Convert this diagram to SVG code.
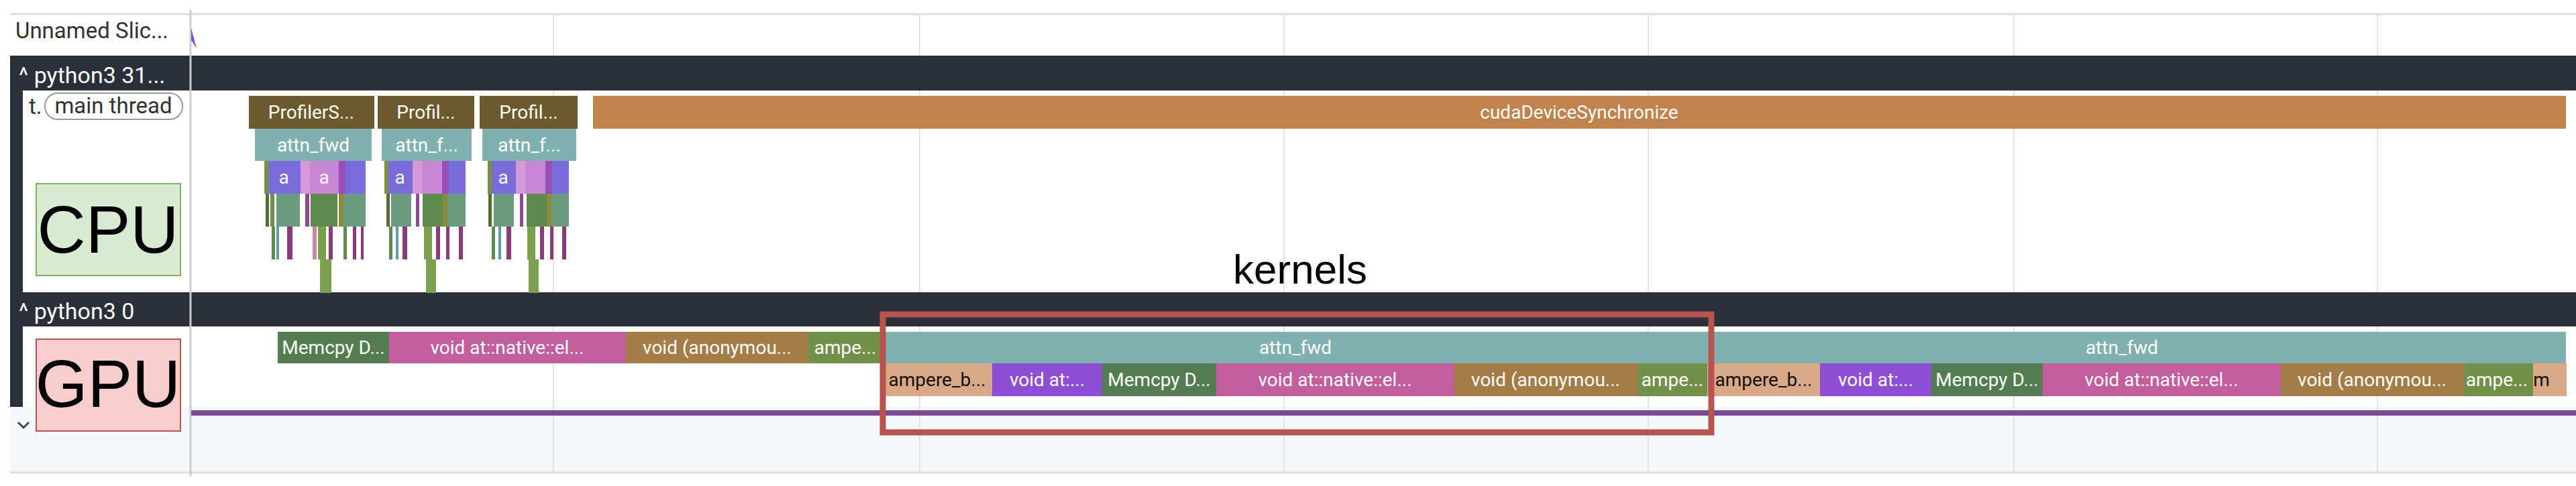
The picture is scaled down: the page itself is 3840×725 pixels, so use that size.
<svg xmlns="http://www.w3.org/2000/svg" width="3840" height="725" viewBox="0 0 3840 725">
<style>
.t{font-family:Roboto,"Liberation Sans",sans-serif;font-size:28px;fill:#fff;text-anchor:middle}
.tb{font-family:Roboto,"Liberation Sans",sans-serif;font-size:28px;fill:#111;text-anchor:middle}
.hd{font-family:Roboto,"Liberation Sans",sans-serif;font-size:34px;fill:#fff}
.lb{font-family:Roboto,"Liberation Sans",sans-serif;font-size:33px;fill:#333}
.big{font-family:"Liberation Sans",Arial,sans-serif;font-size:100px;fill:#000;text-anchor:middle}
.grid{stroke:#e2e2e2;stroke-width:2}
</style>
<defs><clipPath id="amclip"><rect x="3776" y="542" width="50" height="49"/></clipPath></defs>
<rect width="3840" height="725" fill="#fff"/>
<g id="background">
<line x1="15" y1="21" x2="3840" y2="21" stroke="#ddd" stroke-width="3"/>
<rect x="15" y="607" width="3825" height="98" fill="#f5f8fa"/>
<line x1="15" y1="705" x2="3840" y2="705" stroke="#ddd" stroke-width="3"/>
<g class="grid">
<line x1="825" y1="21" x2="825" y2="705"/><line x1="1371" y1="21" x2="1371" y2="705"/>
<line x1="1914" y1="21" x2="1914" y2="705"/><line x1="2457" y1="21" x2="2457" y2="705"/>
<line x1="3002" y1="21" x2="3002" y2="705"/><line x1="3544" y1="21" x2="3544" y2="705"/>
</g>
<rect x="15" y="83" width="3825" height="52" fill="#2b2f3a"/>
<rect x="15" y="436" width="3825" height="51" fill="#2b2f3a"/>
<rect x="15" y="135" width="19" height="301" fill="#2b2f3a"/>
<rect x="15" y="487" width="19" height="120" fill="#2b2f3a"/>
<line x1="284" y1="15" x2="284" y2="710" stroke="#ccc" stroke-width="3"/>
<polygon points="285,42 285,60 293,72" fill="#7b4fd6"/>
<text class="lb" x="23" y="57">Unnamed Slic...</text>
<text class="hd" x="28" y="124">^ python3 31...</text>
<text class="hd" x="28" y="476">^ python3 0</text>
<text class="lb" x="43" y="170">t.</text>
<rect x="67" y="139" width="205" height="39" rx="19" fill="#fff" stroke="#999" stroke-width="2"/>
<text class="lb" x="169" y="169" text-anchor="middle">main thread</text>
<polyline points="27,630 35,638 43,630" fill="none" stroke="#444" stroke-width="3"/>
<line x1="285" y1="616" x2="3840" y2="616" stroke="#7b4a96" stroke-width="8"/>
</g>
<g id="cpu-slices">
<rect x="371" y="143" width="187" height="49" fill="#6c5a2e"/><text class="t" x="464" y="177">ProfilerS...</text>
<rect x="563" y="143" width="144" height="49" fill="#6c5a2e"/><text class="t" x="635" y="177">Profil...</text>
<rect x="715" y="143" width="146" height="49" fill="#6c5a2e"/><text class="t" x="788" y="177">Profil...</text>
<rect x="884" y="143" width="2941" height="49" fill="#c0834d"/><text class="t" x="2354" y="177">cudaDeviceSynchronize</text>
<rect x="380" y="192" width="174" height="48" fill="#80b1b0"/><text class="t" x="467" y="226">attn_fwd</text>
<rect x="569" y="192" width="134" height="48" fill="#80b1b0"/><text class="t" x="636" y="226">attn_f...</text>
<rect x="719" y="192" width="140" height="48" fill="#80b1b0"/><text class="t" x="789" y="226">attn_f...</text>
</g>
<g id="cpu-stacks">
<g id="stack1">
<rect x="394" y="240" width="6" height="49" fill="#7a8f45"/><rect x="400" y="240" width="48" height="49" fill="#7b6bd8"/><text class="t" x="423" y="274">a</text>
<rect x="448" y="240" width="14" height="49" fill="#d49bd8"/><rect x="462" y="240" width="43" height="49" fill="#c986d6"/><text class="t" x="483" y="274">a</text>
<rect x="505" y="240" width="10" height="49" fill="#9a4fb8"/><rect x="515" y="240" width="30" height="49" fill="#7b6bd8"/>
<rect x="396" y="289" width="5" height="49" fill="#556b2f"/><rect x="403" y="289" width="6" height="49" fill="#6b8f4f"/><rect x="412" y="289" width="35" height="49" fill="#6a9a80"/>
<rect x="455" y="289" width="6" height="49" fill="#8a4a8c"/><rect x="463" y="289" width="40" height="49" fill="#5e8a4e"/><rect x="505" y="289" width="7" height="49" fill="#8a8a3a"/><rect x="512" y="289" width="33" height="49" fill="#6a9a80"/>
<rect x="405" y="338" width="5" height="49" fill="#5e8a4e"/><rect x="412" y="338" width="4" height="49" fill="#5aa0a0"/><rect x="428" y="338" width="8" height="49" fill="#8b3a7a"/>
<rect x="466" y="338" width="6" height="49" fill="#c986a6"/><rect x="474" y="338" width="12" height="49" fill="#7aa050"/><rect x="490" y="338" width="6" height="49" fill="#8b3a7a"/>
<rect x="512" y="338" width="5" height="49" fill="#5e8a4e"/><rect x="526" y="338" width="5" height="49" fill="#8b3a7a"/><rect x="538" y="338" width="4" height="49" fill="#8b3a7a"/>
<rect x="477" y="387" width="17" height="50" fill="#7aa050"/>
</g>
<g id="stack2">
<rect x="573" y="240" width="6" height="49" fill="#7a8f45"/><rect x="579" y="240" width="36" height="49" fill="#7b6bd8"/><text class="t" x="596" y="274">a</text>
<rect x="615" y="240" width="14" height="49" fill="#d49bd8"/><rect x="629" y="240" width="30" height="49" fill="#c986d6"/>
<rect x="659" y="240" width="10" height="49" fill="#9a4fb8"/><rect x="669" y="240" width="25" height="49" fill="#7b6bd8"/>
<rect x="576" y="289" width="5" height="49" fill="#556b2f"/><rect x="583" y="289" width="30" height="49" fill="#6a9a80"/>
<rect x="620" y="289" width="5" height="49" fill="#8a4a8c"/><rect x="630" y="289" width="30" height="49" fill="#5e8a4e"/><rect x="660" y="289" width="7" height="49" fill="#8a8a3a"/><rect x="667" y="289" width="27" height="49" fill="#6a9a80"/>
<rect x="580" y="338" width="5" height="49" fill="#5e8a4e"/><rect x="590" y="338" width="4" height="49" fill="#5aa0a0"/><rect x="600" y="338" width="7" height="49" fill="#8b3a7a"/>
<rect x="632" y="338" width="12" height="49" fill="#7aa050"/><rect x="650" y="338" width="6" height="49" fill="#8b3a7a"/><rect x="665" y="338" width="5" height="49" fill="#8b3a7a"/><rect x="684" y="338" width="6" height="49" fill="#8b3a7a"/>
<rect x="635" y="387" width="15" height="50" fill="#7aa050"/>
</g>
<g id="stack3">
<rect x="727" y="240" width="6" height="49" fill="#7a8f45"/><rect x="733" y="240" width="36" height="49" fill="#7b6bd8"/><text class="t" x="750" y="274">a</text>
<rect x="769" y="240" width="14" height="49" fill="#d49bd8"/><rect x="783" y="240" width="30" height="49" fill="#c986d6"/>
<rect x="813" y="240" width="10" height="49" fill="#9a4fb8"/><rect x="823" y="240" width="25" height="49" fill="#7b6bd8"/>
<rect x="728" y="289" width="5" height="49" fill="#556b2f"/><rect x="736" y="289" width="30" height="49" fill="#6a9a80"/>
<rect x="775" y="289" width="5" height="49" fill="#8a4a8c"/><rect x="785" y="289" width="30" height="49" fill="#5e8a4e"/><rect x="815" y="289" width="7" height="49" fill="#8a8a3a"/><rect x="822" y="289" width="26" height="49" fill="#6a9a80"/>
<rect x="733" y="338" width="5" height="49" fill="#5e8a4e"/><rect x="743" y="338" width="4" height="49" fill="#5aa0a0"/><rect x="755" y="338" width="7" height="49" fill="#8b3a7a"/>
<rect x="786" y="338" width="12" height="49" fill="#7aa050"/><rect x="805" y="338" width="6" height="49" fill="#8b3a7a"/><rect x="820" y="338" width="5" height="49" fill="#8b3a7a"/><rect x="838" y="338" width="6" height="49" fill="#8b3a7a"/>
<rect x="788" y="387" width="15" height="50" fill="#7aa050"/>
</g>
</g>
<g id="gpu-slices">
<rect x="414" y="495" width="166" height="47" fill="#557c50"/><text class="t" x="497" y="528">Memcpy D...</text>
<rect x="580" y="495" width="353" height="47" fill="#c25e9e"/><text class="t" x="756" y="528">void at::native::el...</text>
<rect x="933" y="495" width="272" height="47" fill="#a37c48"/><text class="t" x="1069" y="528">void (anonymou...</text>
<rect x="1205" y="495" width="110" height="47" fill="#73904a"/><text class="t" x="1260" y="528">ampe...</text>
<rect x="1315" y="495" width="1232" height="47" fill="#80b1b0"/><text class="t" x="1931" y="528">attn_fwd</text>
<rect x="2547" y="495" width="1278" height="47" fill="#80b1b0"/><text class="t" x="3163" y="528">attn_fwd</text>
<rect x="1316" y="542" width="163" height="49" fill="#d9a886"/><text class="tb" x="1397" y="576">ampere_b...</text>
<rect x="1479" y="542" width="164" height="49" fill="#8e4fd6"/><text class="t" x="1561" y="576">void at:...</text>
<rect x="1643" y="542" width="170" height="49" fill="#557c50"/><text class="t" x="1728" y="576">Memcpy D...</text>
<rect x="1813" y="542" width="355" height="49" fill="#c25e9e"/><text class="t" x="1990" y="576">void at::native::el...</text>
<rect x="2168" y="542" width="273" height="49" fill="#a37c48"/><text class="t" x="2304" y="576">void (anonymou...</text>
<rect x="2441" y="542" width="104" height="49" fill="#73904a"/><text class="t" x="2493" y="576">ampe...</text>
<rect x="2545" y="542" width="168" height="49" fill="#d9a886"/><text class="tb" x="2629" y="576">ampere_b...</text>
<rect x="2713" y="542" width="166" height="49" fill="#8e4fd6"/><text class="t" x="2796" y="576">void at:...</text>
<rect x="2879" y="542" width="166" height="49" fill="#557c50"/><text class="t" x="2962" y="576">Memcpy D...</text>
<rect x="3045" y="542" width="355" height="49" fill="#c25e9e"/><text class="t" x="3222" y="576">void at::native::el...</text>
<rect x="3400" y="542" width="273" height="49" fill="#a37c48"/><text class="t" x="3536" y="576">void (anonymou...</text>
<rect x="3673" y="542" width="103" height="49" fill="#73904a"/><text class="t" x="3722" y="576" font-size="25">ampe...</text>
<rect x="3776" y="542" width="50" height="49" fill="#d9a886"/><text class="tb" x="3781" y="576" text-anchor="start" clip-path="url(#amclip)">am</text>
</g>
<g id="cpu-label">
<rect x="54" y="274" width="215" height="137" fill="#d9ead3" stroke="#82b366" stroke-width="2"/>
<text class="big" x="161" y="377">CPU</text>
</g>
<g id="gpu-label">
<rect x="54" y="506" width="215" height="137" fill="#f8cecc" stroke="#b85450" stroke-width="2"/>
<text class="big" x="161" y="607">GPU</text>
</g>
<g id="kernels">
<rect x="1316" y="469" width="1235" height="176" fill="none" stroke="#b85450" stroke-width="9"/>
<text x="1938" y="423" font-family="Liberation Sans, Arial, sans-serif" font-size="62" text-anchor="middle" fill="#000">kernels</text>
</g>
</svg>
